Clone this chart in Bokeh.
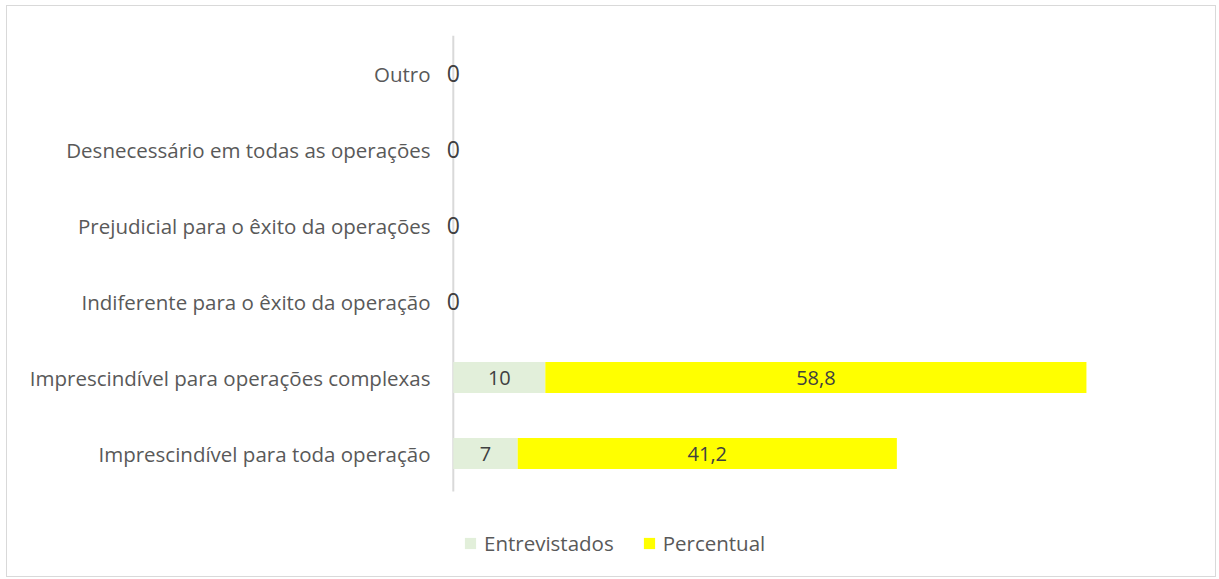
from bokeh.plotting import figure
from bokeh.models import ColumnDataSource, FactorRange, Range1d, Legend, LegendItem
from bokeh.core.properties import value
from bokeh.embed import file_html
from bokeh.resources import INLINE

categories = ["Imprescindível para toda operação",
              "Imprescindível para operações complexas",
              "Indiferente para o êxito da operação",
              "Prejudicial para o êxito da operações",
              "Desnecessário em todas as operações",
              "Outro"]
entrevistados = [7, 10, 0, 0, 0, 0]
percentual = [41.2, 58.8, 0, 0, 0, 0]
series_names = ["Entrevistados", "Percentual"]
colors = ["#e2efda", "#ffff00"]

FONT = "Open Sans"
# a blank factor below the categories leaves room for the legend inside the frame
factors = [" "] + categories

p = figure(width=1210, height=572, y_range=FactorRange(*factors), x_range=Range1d(-1.5, 80),
           output_backend="svg", toolbar_location=None,
           min_border_left=432, min_border_right=28, min_border_top=29, min_border_bottom=11,
           styles={"border": "1px solid #d9d9d9", "margin-left": "6px", "margin-top": "5px"})
p.outline_line_color = None
p.xgrid.visible = False
p.ygrid.visible = False
p.xaxis.visible = False

# category axis line at x = 0
p.segment(x0=[0], y0=[1], x1=[0], y1=[len(factors)], line_color="#d9d9d9", line_width=2)

ends2 = [a + b for a, b in zip(entrevistados, percentual)]
src = ColumnDataSource(dict(cat=categories, s1=[0]*len(categories), e1=entrevistados, e2=ends2))
r1 = p.hbar(y="cat", left="s1", right="e1", height=0.41, fill_color=colors[0], line_color=None, source=src)
r2 = p.hbar(y="cat", left="e1", right="e2", height=0.41, fill_color=colors[1], line_color=None, source=src)

nz = [i for i, v in enumerate(entrevistados) if v > 0]
z = [i for i, v in enumerate(entrevistados) if v == 0]
nzsrc = ColumnDataSource(dict(cat=[categories[i] for i in nz],
                              m1=[entrevistados[i]/2 for i in nz],
                              m2=[entrevistados[i] + percentual[i]/2 for i in nz],
                              le=[str(entrevistados[i]) for i in nz],
                              lp=[("%.1f" % percentual[i]).replace(".", ",") for i in nz]))
for xcol, tcol in (("m1", "le"), ("m2", "lp")):
    p.text(x=xcol, y="cat", text=tcol, source=nzsrc, text_align="center", text_baseline="middle",
           text_font=value(FONT), text_font_size="20px", text_color="#404040")
zsrc = ColumnDataSource(dict(cat=[categories[i] for i in z], x=[0]*len(z), t=["0"]*len(z)))
p.text(x="x", y="cat", text="t", source=zsrc, text_align="center", text_baseline="middle",
       text_font=value(FONT), text_font_size="23px", text_color="#404040")

ax = p.yaxis[0]
ax.axis_line_color = None
ax.major_tick_line_color = None
ax.minor_tick_line_color = None
ax.major_label_standoff = 3
ax.major_label_text_font = FONT
ax.major_label_text_font_size = "20.5px"
ax.major_label_text_color = "#595959"

legend = Legend(items=[LegendItem(label=series_names[0], renderers=[r1]),
                       LegendItem(label=series_names[1], renderers=[r2])],
                orientation="horizontal", location=(24, 10),
                label_text_font=FONT, label_text_font_size="20.5px", label_text_color="#595959",
                glyph_width=14, glyph_height=14, label_standoff=7, spacing=28,
                border_line_color=None, background_fill_alpha=0, margin=0, padding=0)
p.add_layout(legend, "center")

open("out.html", "w").write(file_html(p, INLINE))
